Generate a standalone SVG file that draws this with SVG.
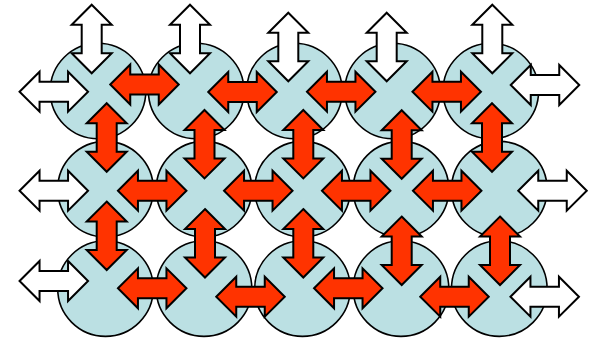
<svg xmlns="http://www.w3.org/2000/svg" xmlns:xlink="http://www.w3.org/1999/xlink" width="590" height="338" viewBox="0 0 590 338">
  <style>
    .cell { fill: #BBE0E3; stroke: #000; stroke-width: 1.6; }
    .arr { stroke: #000; stroke-width: 2; stroke-linejoin: miter; }
    .red { fill: #FF3300; }
    .out { fill: #FFFFFF; }
  </style>
  <defs>
    <!-- double-headed block arrow, horizontal, centred on the origin -->
    <path id="dbl" d="M-34.25,0 L-14.25,-20 L-14.25,-10 L14.25,-10 L14.25,-20 L34.25,0 L14.25,20 L14.25,10 L-14.25,10 L-14.25,20 Z"/>
  </defs>

  <rect width="590" height="338" fill="#FFFFFF"/>

  <!-- cells: row 1 -->
  <g id="c11"><circle class="cell" cx="98" cy="91" r="47.8"/></g>
  <g id="c12"><circle class="cell" cx="196.2" cy="91" r="47.8"/></g>
  <g id="c13"><circle class="cell" cx="294.4" cy="91" r="47.8"/></g>
  <g id="c14"><circle class="cell" cx="392.6" cy="91" r="47.8"/></g>
  <g id="c15"><circle class="cell" cx="490.8" cy="91" r="47.8"/></g>
  <!-- cells: row 2 -->
  <g id="c21"><circle class="cell" cx="105.5" cy="189.2" r="47.8"/></g>
  <g id="c22"><circle class="cell" cx="204" cy="189.2" r="47.8"/></g>
  <g id="c23"><circle class="cell" cx="302.5" cy="189.2" r="47.8"/></g>
  <g id="c24"><circle class="cell" cx="401" cy="189.2" r="47.8"/></g>
  <g id="c25"><circle class="cell" cx="499.3" cy="189.2" r="47.8"/></g>
  <!-- cells: row 3 -->
  <g id="c31"><circle class="cell" cx="105.5" cy="288.6" r="47.8"/></g>
  <g id="c32"><circle class="cell" cx="204" cy="288.6" r="47.8"/></g>
  <g id="c33"><circle class="cell" cx="302.5" cy="288.6" r="47.8"/></g>
  <g id="c34"><circle class="cell" cx="401" cy="288.6" r="47.8"/></g>
  <g id="c35"><circle class="cell" cx="499.3" cy="288.6" r="47.8"/></g>

  <g id="connectors" class="arr">
    <!-- outward arrows, top edge -->
    <use xlink:href="#dbl" class="out" transform="translate(91.7,39) rotate(90)"/>
    <use xlink:href="#dbl" class="out" transform="translate(190,39) rotate(90)"/>
    <use xlink:href="#dbl" class="out" transform="translate(288.3,47) rotate(90)"/>
    <use xlink:href="#dbl" class="out" transform="translate(386.7,47) rotate(90)"/>
    <use xlink:href="#dbl" class="out" transform="translate(492.3,39) rotate(90)"/>

    <!-- row 1 -->
    <use xlink:href="#dbl" class="out" transform="translate(53.8,91.7)"/>
    <use xlink:href="#dbl" class="red" transform="translate(144.5,84.5)"/>
    <use xlink:href="#dbl" class="red" transform="translate(242.5,92)"/>
    <use xlink:href="#dbl" class="red" transform="translate(341.2,91.7)"/>
    <use xlink:href="#dbl" class="red" transform="translate(446.7,91.7)"/>
    <use xlink:href="#dbl" class="out" transform="translate(545,85)"/>

    <!-- row 1 to row 2 -->
    <use xlink:href="#dbl" class="red" transform="translate(106.7,137.5) rotate(90)"/>
    <use xlink:href="#dbl" class="red" transform="translate(204.5,144.2) rotate(90)"/>
    <use xlink:href="#dbl" class="red" transform="translate(303.3,144.2) rotate(90)"/>
    <use xlink:href="#dbl" class="red" transform="translate(401.7,144.5) rotate(90)"/>
    <use xlink:href="#dbl" class="red" transform="translate(492,137.5) rotate(90)"/>

    <!-- row 2 -->
    <use xlink:href="#dbl" class="out" transform="translate(53.8,190.7)"/>
    <use xlink:href="#dbl" class="red" transform="translate(152.2,190.7)"/>
    <use xlink:href="#dbl" class="red" transform="translate(258.3,190.7)"/>
    <use xlink:href="#dbl" class="red" transform="translate(356.2,190.7)"/>
    <use xlink:href="#dbl" class="red" transform="translate(447.2,190.7)"/>
    <use xlink:href="#dbl" class="out" transform="translate(552.5,190.7)"/>

    <!-- row 2 to row 3 -->
    <use xlink:href="#dbl" class="red" transform="translate(106.7,235.8) rotate(90)"/>
    <use xlink:href="#dbl" class="red" transform="translate(205,243.3) rotate(90)"/>
    <use xlink:href="#dbl" class="red" transform="translate(303.3,243.3) rotate(90)"/>
    <use xlink:href="#dbl" class="red" transform="translate(401.7,250.8) rotate(90)"/>
    <use xlink:href="#dbl" class="red" transform="translate(500,250.8) rotate(90)"/>

    <!-- row 3 -->
    <use xlink:href="#dbl" class="out" transform="translate(53.8,281)"/>
    <use xlink:href="#dbl" class="red" transform="translate(152.2,288.3)"/>
    <use xlink:href="#dbl" class="red" transform="translate(250.5,296.7)"/>
    <use xlink:href="#dbl" class="red" transform="translate(348.3,288.3)"/>
    <use xlink:href="#dbl" class="red" transform="translate(454.5,296.7)"/>
    <use xlink:href="#dbl" class="out" transform="translate(544.7,296.7)"/>
  </g>
</svg>
